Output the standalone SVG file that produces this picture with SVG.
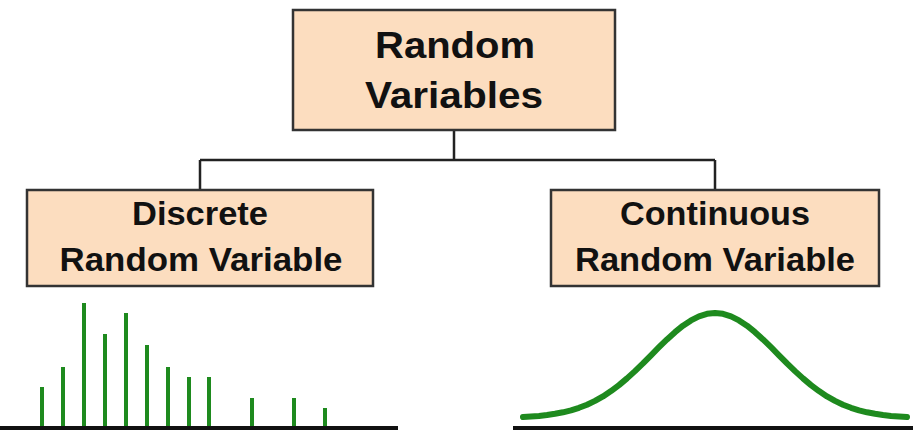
<svg xmlns="http://www.w3.org/2000/svg" width="922" height="438" viewBox="0 0 922 438">
  <style>
    .box { fill: #FCDDBF; stroke: #333333; stroke-width: 2.5; }
    .label { font-family: "Liberation Sans", Arial, sans-serif; font-weight: bold; fill: #111111; text-anchor: middle; }
    .link { fill: none; stroke: #222222; stroke-width: 2.5; }
    .axis { stroke: #111111; stroke-width: 4; }
    .bar { stroke: #1E8A1E; stroke-width: 4; }
    .curve { fill: none; stroke: #1E8A1E; stroke-width: 6; stroke-linejoin: round; stroke-linecap: round; }
  </style>

  <rect width="922" height="438" fill="#FFFFFF"/>

  <!-- tree connectors -->
  <g id="connectors">
    <path class="link" d="M454 130 V160 M200 160 H715 M200 160 V190 M715 160 V190"/>
  </g>

  <g id="random-variables">
    <rect class="box" x="293" y="10" width="322" height="120"/>
    <text class="label" x="455" y="58" font-size="36" textLength="160" lengthAdjust="spacingAndGlyphs">Random</text>
    <text class="label" x="454" y="108" font-size="36" textLength="178" lengthAdjust="spacingAndGlyphs">Variables</text>
  </g>

  <g id="discrete">
    <rect class="box" x="27" y="190" width="346" height="96"/>
    <text class="label" x="200" y="225" font-size="34" textLength="136" lengthAdjust="spacingAndGlyphs">Discrete</text>
    <text class="label" x="201" y="271" font-size="34" textLength="283" lengthAdjust="spacingAndGlyphs">Random Variable</text>
  </g>

  <g id="continuous">
    <rect class="box" x="551" y="190" width="328" height="96"/>
    <text class="label" x="715" y="225" font-size="34" textLength="190" lengthAdjust="spacingAndGlyphs">Continuous</text>
    <text class="label" x="715" y="271" font-size="34" textLength="280" lengthAdjust="spacingAndGlyphs">Random Variable</text>
  </g>

  <!-- probability mass function sketch -->
  <g id="discrete-plot">
    <path class="bar" d="M42 428 V387 M63 428 V367 M84 428 V303 M105 428 V334 M126 428 V313 M147 428 V345 M168 428 V367 M189 428 V377 M209 428 V377 M252 428 V398 M294 428 V398 M325 428 V408"/>
    <line class="axis" x1="0" y1="428" x2="398" y2="428"/>
  </g>

  <!-- density curve sketch (normal curve, sigma about 63px) -->
  <g id="continuous-plot">
    <line class="axis" x1="513" y1="428" x2="913" y2="428"/>
    <polyline class="curve" points="523,417 531,416.5 539,415.9 547,415 555,413.8 563,412.3 571,410.3 579,407.8 587,404.7 595,400.9 603,396.4 611,391.1 619,385.1 627,378.4 635,371.1 643,363.4 651,355.3 659,347.2 667,339.4 675,332.2 683,325.7 691,320.4 699,316.3 707,313.8 715,313 723,313.8 731,316.3 739,320.4 747,325.7 755,332.2 763,339.4 771,347.2 779,355.3 787,363.4 795,371.1 803,378.4 811,385.1 819,391.1 827,396.4 835,400.9 843,404.7 851,407.8 859,410.3 867,412.3 875,413.8 883,415 891,415.9 899,416.5 907,417"/>
  </g>
</svg>
